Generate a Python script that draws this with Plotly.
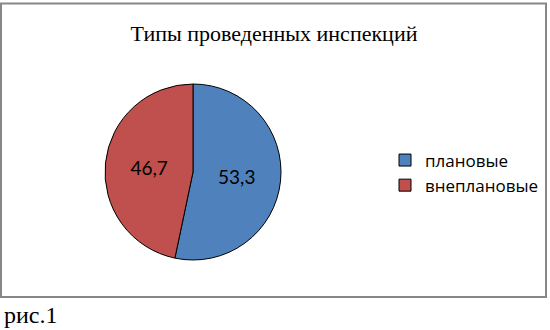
import plotly.graph_objects as go

categories = ["плановые", "внеплановые"]
values = [53.3, 46.7]
colors = ["#4F81BD", "#C0504D"]
title_text = "Типы проведенных инспекций"
caption = "рис.1"

W, H = 550, 330

fig = go.Figure()
fig.add_trace(go.Pie(
    labels=categories,
    values=values,
    sort=False,
    direction="clockwise",
    rotation=0,
    marker=dict(colors=colors, line=dict(color="#000000", width=1)),
    texttemplate="%{value}",
    textposition="inside",
    insidetextorientation="horizontal",
    textfont=dict(family="Lato", size=19, color="#000000"),
    hoverinfo="label+value",
    domain=dict(x=[105 / W, 281 / W], y=[1 - 260 / H, 1 - 84 / H]),
    showlegend=True,
))

fig.update_layout(
    width=W, height=H,
    margin=dict(l=0, r=0, t=0, b=0),
    paper_bgcolor="#ffffff",
    plot_bgcolor="#ffffff",
    separators=", ",
    title=dict(
        text=title_text,
        x=274 / W, xanchor="center",
        y=1 - 33 / H, yanchor="middle",
        font=dict(family="Liberation Serif", size=22, color="#000000"),
    ),
    legend=dict(
        x=385 / W, xanchor="left",
        y=1 - 173 / H, yanchor="middle",
        font=dict(family="Open Sans", size=17, color="#000000"),
        itemwidth=30,
        bgcolor="rgba(0,0,0,0)",
    ),
    shapes=[dict(
        type="rect", xref="paper", yref="paper",
        x0=1 / W, x1=546 / W, y0=1 - 297 / H, y1=1 - 3.5 / H,
        line=dict(color="#878787", width=2),
        fillcolor="rgba(0,0,0,0)",
        layer="below",
    )],
    annotations=[dict(
        text=caption, xref="paper", yref="paper",
        x=2 / W, xanchor="left", y=1 - 315 / H, yanchor="middle",
        showarrow=False,
        font=dict(family="Liberation Serif", size=24, color="#000000"),
    )],
)

fig.write_html("out.html")
